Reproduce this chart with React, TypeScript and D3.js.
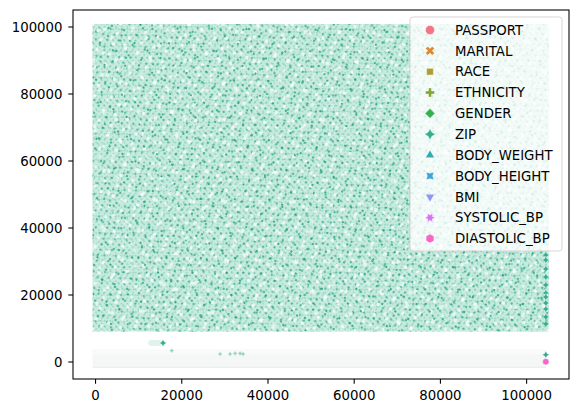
import * as d3 from "d3";

const W = 578;
const H = 413;
const margin = { left: 73, right: 9, top: 10, bottom: 34 };

const seriesNames = ["PASSPORT", "MARITAL", "RACE", "ETHNICITY", "GENDER", "ZIP", "BODY_WEIGHT", "BODY_HEIGHT", "BMI", "SYSTOLIC_BP", "DIASTOLIC_BP"];
const seriesColors = ["#f77189", "#dc8932", "#ae9d31", "#80a831", "#33b04f", "#35ad8e", "#37abab", "#3aa5d9", "#8c98f4", "#d873f4", "#f566c8"];

const xTicks = [0, 20000, 40000, 60000, 80000, 100000];
const yTicks = [0, 20000, 40000, 60000, 80000, 100000];
const xDomain = [-5230, 109830];
const yDomain = [-5075, 105075];

// the ~100k ZIP rows form a dense cloud: row index range and value range
const zipCloudIndex = [0, 104420];
const zipCloudValue = [10000, 100000];

// faint strip made of all the small-valued columns near zero
const lowBandIndex = [0, 104500];
const lowBandValue = [-1580, 3880];

// pale smear left of the lone ZIP point near 15k
const smearIndex = [12200, 15500];
const smearValue = [5670];

// ZIP points readable on their own
const zipIndex = [104450, 104450, 104450, 104450, 104450, 104450, 104450, 104450, 104450, 104450, 104450, 104450, 15660];
const zipValue = [31940, 30450, 27760, 25370, 22990, 20600, 19400, 17610, 15820, 13430, 11340, 2180, 5670];

// small faint ZIP marks inside the low strip
const faintIndex = [17680, 28890, 31210, 32370, 33530, 34220];
const faintValue = [3380, 2390, 2390, 2590, 2590, 2390];

const diastolicIndex = [104450];
const diastolicValue = [80];

const line = d3.line();

const poly = (n: number, r: number, rot: number, inner = 0) => {
  const pts: [number, number][] = [];
  const k = inner ? n * 2 : n;
  for (let i = 0; i < k; i++) {
    const a = ((-90 - rot + (i * 360) / k) * Math.PI) / 180;
    const rr = inner && i % 2 === 1 ? r * inner : r;
    pts.push([rr * Math.cos(a), rr * Math.sin(a)]);
  }
  return line(pts) + "Z";
};

const cross = (r: number, rot: number) => {
  const t = r / 3;
  const base: [number, number][] = [
    [-t, -r], [t, -r], [t, -t], [r, -t], [r, t], [t, t],
    [t, r], [-t, r], [-t, t], [-r, t], [-r, -t], [-t, -t],
  ];
  const a = (rot * Math.PI) / 180;
  const pts = base.map(([x, y]) => [x * Math.cos(a) - y * Math.sin(a), x * Math.sin(a) + y * Math.cos(a)] as [number, number]);
  return line(pts) + "Z";
};

const markerPath = (i: number, r: number) => {
  switch (i) {
    case 0: return d3.symbol(d3.symbolCircle, Math.PI * r * r)()!;
    case 1: return cross(r * 1.05, 45);
    case 2: return poly(4, r * 1.05, 45);
    case 3: return cross(r, 0);
    case 4: return poly(4, r * 1.1, 0);
    case 5: return poly(4, r * 1.2, 0, 0.5);
    case 6: return poly(3, r * 1.15, 0);
    case 7: return poly(4, r * 1.2, 45, 0.5);
    case 8: return poly(3, r * 1.15, 180);
    case 9: return poly(6, r * 1.15, 30, 0.5);
    default: return poly(6, r, 0);
  }
};

export default function App() {
  const x = d3.scaleLinear().domain(xDomain).range([margin.left, W - margin.right]);
  const y = d3.scaleLinear().domain(yDomain).range([H - margin.bottom, margin.top]);
  const teal = seriesColors[5];
  const font = "DejaVu Sans, sans-serif";
  const pad = 3;

  const cx0 = x(zipCloudIndex[0]) - pad;
  const cx1 = x(zipCloudIndex[1]) + pad;
  const cy0 = y(zipCloudValue[1]) - pad;
  const cy1 = y(zipCloudValue[0]) + pad;

  return (
    <svg width={W} height={H} style={{ position: "absolute", left: 0, top: 0 }}>
      <defs>
        <pattern id="tA" width="4" height="4" patternUnits="userSpaceOnUse" patternTransform="rotate(45)">
          <rect x="0" y="0" width="1.5" height="1.5" fill="#2aa884" fillOpacity="0.35" />
        </pattern>
        <pattern id="tB" width="9" height="7" patternUnits="userSpaceOnUse" patternTransform="rotate(-35)">
          <rect x="1" y="2" width="2.2" height="2.2" fill="#23a47f" fillOpacity="0.6" />
          <rect x="6" y="5" width="1.5" height="1.5" fill="#23a47f" fillOpacity="0.4" />
        </pattern>
        <pattern id="tC" width="13" height="11" patternUnits="userSpaceOnUse" patternTransform="rotate(20)">
          <rect x="3" y="1" width="3" height="3" fill="#ffffff" fillOpacity="0.7" />
          <rect x="9" y="7" width="2" height="2" fill="#1f9f7a" fillOpacity="0.7" />
        </pattern>
        <pattern id="tD" width="17" height="15" patternUnits="userSpaceOnUse" patternTransform="rotate(-60)">
          <rect x="4" y="9" width="4" height="3" fill="#ffffff" fillOpacity="0.6" />
          <rect x="12" y="2" width="2" height="2" fill="#1f9f7a" fillOpacity="0.8" />
        </pattern>
      </defs>

      {/* low strip near zero */}
      <rect x={x(lowBandIndex[0]) - pad} y={y(lowBandValue[1])} width={x(lowBandIndex[1]) - x(lowBandIndex[0]) + pad}
        height={y(lowBandValue[0]) - y(lowBandValue[1])} fill="#f5f7f6" />
      <rect x={x(lowBandIndex[0]) - pad} y={y(lowBandValue[1])} width={x(lowBandIndex[1]) - x(lowBandIndex[0]) + pad}
        height={(y(lowBandValue[0]) - y(lowBandValue[1])) * 0.3} fill="#f9fbfa" />
      <line x1={x(lowBandIndex[0]) - pad} x2={x(lowBandIndex[1])} y1={y(lowBandValue[0])} y2={y(lowBandValue[0])} stroke="#e8ebe4" strokeWidth={1} />

      {/* smear */}
      <rect x={x(smearIndex[0])} y={y(smearValue[0]) - 3} width={x(smearIndex[1]) - x(smearIndex[0])} height={6} rx={3}
        fill="#e1f3ed" />

      {/* dense ZIP cloud */}
      <rect x={cx0} y={cy0} width={cx1 - cx0} height={cy1 - cy0} fill="#c8ebdf" />
      {["tA", "tB", "tC", "tD"].map((id) => (
        <rect key={id} x={cx0} y={cy0} width={cx1 - cx0} height={cy1 - cy0} fill={`url(#${id})`} />
      ))}

      {faintIndex.map((d, i) => (
        <path key={"f" + i} d={markerPath(5, 2)} transform={`translate(${x(d)},${y(faintValue[i])})`} fill={teal} fillOpacity={0.5} />
      ))}
      {zipIndex.map((d, i) => (
        <path key={"z" + i} d={markerPath(5, 3)} transform={`translate(${x(d)},${y(zipValue[i])})`} fill={teal} stroke="#fff" strokeWidth={0.4} />
      ))}
      {diastolicIndex.map((d, i) => (
        <path key={"d" + i} d={markerPath(0, 3.3)} transform={`translate(${x(d)},${y(diastolicValue[i])})`} fill={seriesColors[10]} stroke="#fff" strokeWidth={0.6} />
      ))}

      {/* axes frame */}
      <rect x={margin.left} y={margin.top} width={W - margin.left - margin.right} height={H - margin.top - margin.bottom}
        fill="none" stroke="#000" strokeWidth={1.07} />

      {xTicks.map((t) => (
        <g key={"x" + t} transform={`translate(${x(t)},${H - margin.bottom})`}>
          <line y2={4.7} stroke="#000" strokeWidth={1.07} />
          <text y={20.5} textAnchor="middle" fontFamily={font} fontSize={13.3} fill="#000">{t}</text>
        </g>
      ))}
      {yTicks.map((t) => (
        <g key={"y" + t} transform={`translate(${margin.left},${y(t)})`}>
          <line x2={-4.7} stroke="#000" strokeWidth={1.07} />
          <text x={-10.5} dy="0.35em" textAnchor="end" fontFamily={font} fontSize={13.3} fill="#000">{t}</text>
        </g>
      ))}

      {/* legend */}
      <rect x={410} y={17} width={152} height={234} rx={3} fill="#fff" fillOpacity={0.8} stroke="#cccccc" strokeOpacity={0.8} strokeWidth={1} />
      {seriesNames.map((name, i) => {
        const ly = 30 + i * 20.85;
        return (
          <g key={name}>
            <path d={markerPath(i, 4.5)} transform={`translate(430,${ly})`} fill={seriesColors[i]} stroke="#fff" strokeWidth={0.4} />
            <text x={455} y={ly} dy="0.36em" fontFamily={font} fontSize={13.3} fill="#000">{name}</text>
          </g>
        );
      })}
    </svg>
  );
}
